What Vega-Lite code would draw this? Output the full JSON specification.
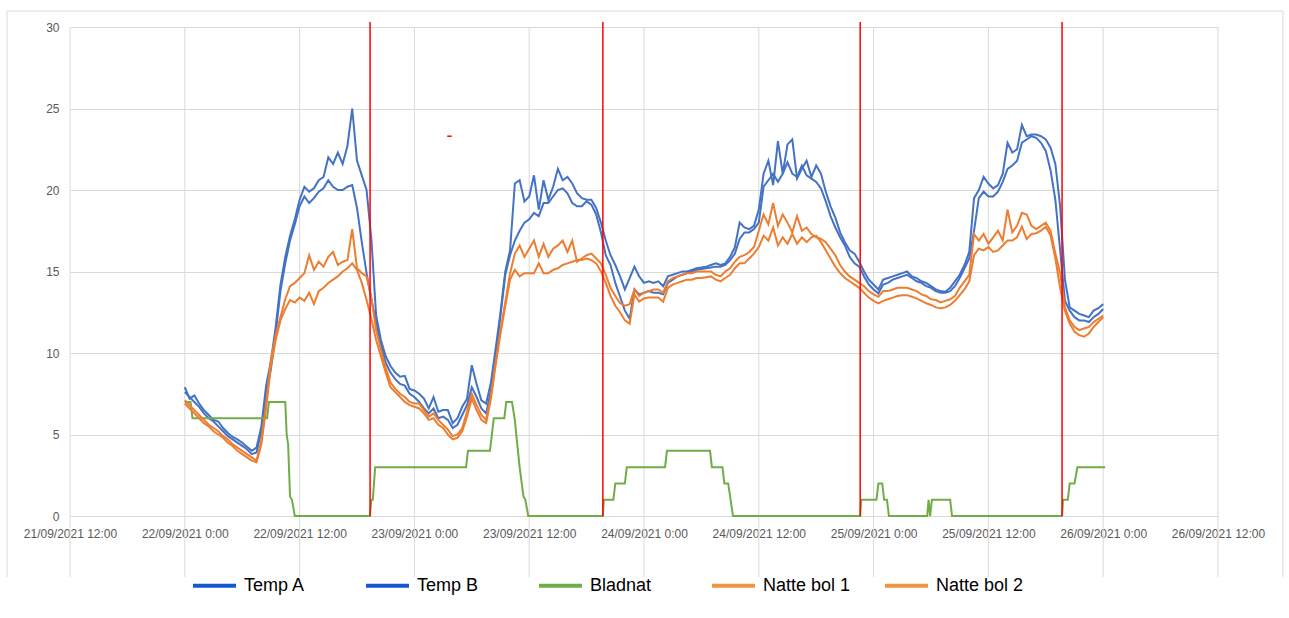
{
  "$schema": "https://vega.github.io/schema/vega-lite/v6.json",
  "width": 1148,
  "height": 550,
  "autosize": {"type": "none"},
  "padding": {"left": 70, "top": 27, "right": 71, "bottom": 41},
  "background": "#ffffff",
  "config": {"view": {"stroke": null}},
  "datasets": {
    "rules": [
      {"x1": "2021-09-21T12:00", "x2": "2021-09-21T12:00", "y1": 30, "y2": -3.74},
      {"x1": "2021-09-22T00:00", "x2": "2021-09-22T00:00", "y1": 30, "y2": -3.74},
      {"x1": "2021-09-22T12:00", "x2": "2021-09-22T12:00", "y1": 30, "y2": -3.74},
      {"x1": "2021-09-23T00:00", "x2": "2021-09-23T00:00", "y1": 30, "y2": -3.74},
      {"x1": "2021-09-23T12:00", "x2": "2021-09-23T12:00", "y1": 30, "y2": -3.74},
      {"x1": "2021-09-24T00:00", "x2": "2021-09-24T00:00", "y1": 30, "y2": -3.74},
      {"x1": "2021-09-24T12:00", "x2": "2021-09-24T12:00", "y1": 30, "y2": -3.74},
      {"x1": "2021-09-25T00:00", "x2": "2021-09-25T00:00", "y1": 30, "y2": -3.74},
      {"x1": "2021-09-25T12:00", "x2": "2021-09-25T12:00", "y1": 30, "y2": -3.74},
      {"x1": "2021-09-26T00:00", "x2": "2021-09-26T00:00", "y1": 30, "y2": -3.74},
      {"x1": "2021-09-26T12:00", "x2": "2021-09-26T12:00", "y1": 30, "y2": -3.74},
      {"x1": "2021-09-21T05:25", "x2": "2021-09-21T05:25", "y1": 30.98, "y2": -3.74},
      {"x1": "2021-09-26T18:47", "x2": "2021-09-26T18:47", "y1": 30.98, "y2": -3.74},
      {"x1": "2021-09-21T05:25", "x2": "2021-09-26T18:47", "y1": 30.98, "y2": 30.98}
    ],
    "temps": [
      {"t":"2021-09-22T00:00","a":7.9,"b":7.6,"c":7.1,"d":6.9},
      {"t":"2021-09-22T00:30","a":7.2,"b":7.3,"c":6.8,"d":6.6},
      {"t":"2021-09-22T01:00","a":7.4,"b":7.0,"c":6.5,"d":6.3},
      {"t":"2021-09-22T01:30","a":6.9,"b":6.7,"c":6.2,"d":6.0},
      {"t":"2021-09-22T02:00","a":6.5,"b":6.3,"c":5.9,"d":5.7},
      {"t":"2021-09-22T02:30","a":6.2,"b":6.0,"c":5.6,"d":5.5},
      {"t":"2021-09-22T03:00","a":5.9,"b":5.8,"c":5.4,"d":5.2},
      {"t":"2021-09-22T03:30","a":5.8,"b":5.5,"c":5.2,"d":5.0},
      {"t":"2021-09-22T04:00","a":5.4,"b":5.2,"c":4.9,"d":4.8},
      {"t":"2021-09-22T04:30","a":5.1,"b":4.9,"c":4.7,"d":4.5},
      {"t":"2021-09-22T05:00","a":4.85,"b":4.7,"c":4.4,"d":4.3},
      {"t":"2021-09-22T05:30","a":4.7,"b":4.5,"c":4.2,"d":4.0},
      {"t":"2021-09-22T06:00","a":4.5,"b":4.3,"c":4.0,"d":3.8},
      {"t":"2021-09-22T06:30","a":4.25,"b":4.1,"c":3.8,"d":3.6},
      {"t":"2021-09-22T07:00","a":4.0,"b":3.8,"c":3.6,"d":3.4},
      {"t":"2021-09-22T07:30","a":4.2,"b":3.9,"c":3.4,"d":3.3},
      {"t":"2021-09-22T08:00","a":5.5,"b":5.2,"c":4.6,"d":4.4},
      {"t":"2021-09-22T08:30","a":8.0,"b":7.5,"c":6.9,"d":6.6},
      {"t":"2021-09-22T09:00","a":9.5,"b":9.0,"c":9.6,"d":9.2},
      {"t":"2021-09-22T09:30","a":11.6,"b":11.2,"c":11.1,"d":10.8},
      {"t":"2021-09-22T10:00","a":14.2,"b":13.8,"c":12.2,"d":12.0},
      {"t":"2021-09-22T10:30","a":15.9,"b":15.5,"c":13.3,"d":12.7},
      {"t":"2021-09-22T11:00","a":17.2,"b":16.9,"c":14.1,"d":13.25},
      {"t":"2021-09-22T11:30","a":18.2,"b":17.9,"c":14.3,"d":13.1},
      {"t":"2021-09-22T12:00","a":19.4,"b":19.0,"c":14.6,"d":13.4},
      {"t":"2021-09-22T12:30","a":20.2,"b":19.6,"c":14.9,"d":13.2},
      {"t":"2021-09-22T13:00","a":19.9,"b":19.2,"c":16.0,"d":13.7},
      {"t":"2021-09-22T13:30","a":20.1,"b":19.5,"c":15.1,"d":13.0},
      {"t":"2021-09-22T14:00","a":20.6,"b":19.9,"c":15.6,"d":13.8},
      {"t":"2021-09-22T14:30","a":20.8,"b":20.1,"c":15.3,"d":14.0},
      {"t":"2021-09-22T15:00","a":22.0,"b":20.6,"c":15.9,"d":14.3},
      {"t":"2021-09-22T15:30","a":21.6,"b":20.2,"c":16.2,"d":14.5},
      {"t":"2021-09-22T16:00","a":22.3,"b":20.0,"c":15.4,"d":14.7},
      {"t":"2021-09-22T16:30","a":21.6,"b":20.0,"c":15.6,"d":15.0},
      {"t":"2021-09-22T17:00","a":22.7,"b":20.2,"c":15.7,"d":15.2},
      {"t":"2021-09-22T17:30","a":25.0,"b":20.3,"c":17.6,"d":15.5},
      {"t":"2021-09-22T18:00","a":21.8,"b":18.9,"c":15.2,"d":15.1},
      {"t":"2021-09-22T18:30","a":20.9,"b":16.8,"c":14.9,"d":14.3},
      {"t":"2021-09-22T19:00","a":20.0,"b":14.9,"c":14.7,"d":13.25},
      {"t":"2021-09-22T19:30","a":17.0,"b":13.3,"c":13.4,"d":12.1},
      {"t":"2021-09-22T20:00","a":12.3,"b":11.9,"c":11.4,"d":10.8},
      {"t":"2021-09-22T20:30","a":10.8,"b":10.5,"c":10.2,"d":9.8},
      {"t":"2021-09-22T21:00","a":9.8,"b":9.4,"c":9.1,"d":8.8},
      {"t":"2021-09-22T21:30","a":9.2,"b":8.8,"c":8.2,"d":7.9},
      {"t":"2021-09-22T22:00","a":8.8,"b":8.4,"c":7.8,"d":7.6},
      {"t":"2021-09-22T22:30","a":8.55,"b":8.1,"c":7.5,"d":7.3},
      {"t":"2021-09-22T23:00","a":8.6,"b":8.0,"c":7.3,"d":7.0},
      {"t":"2021-09-22T23:30","a":7.8,"b":7.5,"c":7.0,"d":6.8},
      {"t":"2021-09-23T00:00","a":7.7,"b":7.3,"c":6.9,"d":6.7},
      {"t":"2021-09-23T00:30","a":7.5,"b":7.0,"c":6.9,"d":6.6},
      {"t":"2021-09-23T01:00","a":7.2,"b":6.6,"c":6.5,"d":6.3},
      {"t":"2021-09-23T01:30","a":6.6,"b":6.3,"c":6.1,"d":5.9},
      {"t":"2021-09-23T02:00","a":7.3,"b":6.6,"c":6.3,"d":6.0},
      {"t":"2021-09-23T02:30","a":6.4,"b":6.0,"c":5.9,"d":5.6},
      {"t":"2021-09-23T03:00","a":6.5,"b":6.1,"c":5.6,"d":5.4},
      {"t":"2021-09-23T03:30","a":6.5,"b":5.9,"c":5.3,"d":5.0},
      {"t":"2021-09-23T04:00","a":5.7,"b":5.4,"c":4.9,"d":4.7},
      {"t":"2021-09-23T04:30","a":6.0,"b":5.6,"c":5.0,"d":4.8},
      {"t":"2021-09-23T05:00","a":6.7,"b":6.2,"c":5.4,"d":5.2},
      {"t":"2021-09-23T05:30","a":7.2,"b":6.8,"c":6.4,"d":6.1},
      {"t":"2021-09-23T06:00","a":9.25,"b":7.9,"c":7.5,"d":7.2},
      {"t":"2021-09-23T06:30","a":8.1,"b":7.3,"c":6.8,"d":6.5},
      {"t":"2021-09-23T07:00","a":7.1,"b":6.6,"c":6.2,"d":5.9},
      {"t":"2021-09-23T07:30","a":6.9,"b":6.3,"c":5.9,"d":5.7},
      {"t":"2021-09-23T08:00","a":8.2,"b":7.7,"c":7.4,"d":7.2},
      {"t":"2021-09-23T08:30","a":10.3,"b":10.0,"c":9.5,"d":9.3},
      {"t":"2021-09-23T09:00","a":12.5,"b":12.3,"c":11.4,"d":11.2},
      {"t":"2021-09-23T09:30","a":15.0,"b":14.8,"c":13.1,"d":12.9},
      {"t":"2021-09-23T10:00","a":16.3,"b":16.0,"c":14.9,"d":14.5},
      {"t":"2021-09-23T10:30","a":20.4,"b":16.9,"c":16.1,"d":15.1},
      {"t":"2021-09-23T11:00","a":20.6,"b":17.5,"c":16.6,"d":14.7},
      {"t":"2021-09-23T11:30","a":19.3,"b":18.0,"c":15.9,"d":14.9},
      {"t":"2021-09-23T12:00","a":19.6,"b":18.2,"c":16.4,"d":14.9},
      {"t":"2021-09-23T12:30","a":20.9,"b":18.6,"c":16.9,"d":14.9},
      {"t":"2021-09-23T13:00","a":18.8,"b":18.4,"c":15.9,"d":15.5},
      {"t":"2021-09-23T13:30","a":20.6,"b":19.2,"c":16.7,"d":14.9},
      {"t":"2021-09-23T14:00","a":19.4,"b":19.2,"c":15.9,"d":14.9},
      {"t":"2021-09-23T14:30","a":20.2,"b":19.6,"c":16.4,"d":15.1},
      {"t":"2021-09-23T15:00","a":21.3,"b":20.0,"c":16.6,"d":15.2},
      {"t":"2021-09-23T15:30","a":20.6,"b":20.1,"c":16.9,"d":15.4},
      {"t":"2021-09-23T16:00","a":20.8,"b":19.8,"c":16.2,"d":15.5},
      {"t":"2021-09-23T16:30","a":20.4,"b":19.2,"c":16.9,"d":15.6},
      {"t":"2021-09-23T17:00","a":19.8,"b":19.0,"c":15.6,"d":15.7},
      {"t":"2021-09-23T17:30","a":19.5,"b":19.0,"c":15.8,"d":15.7},
      {"t":"2021-09-23T18:00","a":19.4,"b":19.3,"c":16.0,"d":15.8},
      {"t":"2021-09-23T18:30","a":19.4,"b":19.1,"c":16.1,"d":15.7},
      {"t":"2021-09-23T19:00","a":18.9,"b":18.5,"c":15.8,"d":15.5},
      {"t":"2021-09-23T19:30","a":18.0,"b":17.4,"c":15.5,"d":15.0},
      {"t":"2021-09-23T20:00","a":16.9,"b":16.0,"c":14.8,"d":14.3},
      {"t":"2021-09-23T20:30","a":16.0,"b":15.4,"c":14.0,"d":13.5},
      {"t":"2021-09-23T21:00","a":15.4,"b":14.3,"c":13.5,"d":12.9},
      {"t":"2021-09-23T21:30","a":14.7,"b":13.45,"c":13.05,"d":12.5},
      {"t":"2021-09-23T22:00","a":13.9,"b":12.6,"c":12.9,"d":12.0},
      {"t":"2021-09-23T22:30","a":14.6,"b":12.1,"c":13.0,"d":11.8},
      {"t":"2021-09-23T23:00","a":15.3,"b":13.9,"c":13.9,"d":13.6},
      {"t":"2021-09-23T23:30","a":14.7,"b":13.6,"c":13.5,"d":13.15},
      {"t":"2021-09-24T00:00","a":14.3,"b":13.7,"c":13.7,"d":13.35},
      {"t":"2021-09-24T00:30","a":14.4,"b":13.8,"c":13.8,"d":13.4},
      {"t":"2021-09-24T01:00","a":14.3,"b":13.7,"c":13.9,"d":13.4},
      {"t":"2021-09-24T01:30","a":14.4,"b":13.7,"c":13.9,"d":13.4},
      {"t":"2021-09-24T02:00","a":14.1,"b":13.6,"c":13.7,"d":13.15},
      {"t":"2021-09-24T02:30","a":14.7,"b":14.3,"c":14.4,"d":14.0},
      {"t":"2021-09-24T03:00","a":14.8,"b":14.5,"c":14.6,"d":14.2},
      {"t":"2021-09-24T03:30","a":14.9,"b":14.7,"c":14.7,"d":14.3},
      {"t":"2021-09-24T04:00","a":15.0,"b":14.8,"c":14.8,"d":14.4},
      {"t":"2021-09-24T04:30","a":15.0,"b":14.9,"c":14.9,"d":14.5},
      {"t":"2021-09-24T05:00","a":15.1,"b":15.0,"c":14.9,"d":14.5},
      {"t":"2021-09-24T05:30","a":15.2,"b":15.1,"c":15.0,"d":14.6},
      {"t":"2021-09-24T06:00","a":15.25,"b":15.15,"c":15.0,"d":14.6},
      {"t":"2021-09-24T06:30","a":15.3,"b":15.2,"c":15.0,"d":14.65},
      {"t":"2021-09-24T07:00","a":15.4,"b":15.25,"c":15.0,"d":14.7},
      {"t":"2021-09-24T07:30","a":15.5,"b":15.3,"c":14.8,"d":14.5},
      {"t":"2021-09-24T08:00","a":15.4,"b":15.3,"c":14.7,"d":14.4},
      {"t":"2021-09-24T08:30","a":15.5,"b":15.4,"c":15.0,"d":14.6},
      {"t":"2021-09-24T09:00","a":15.9,"b":15.7,"c":15.2,"d":14.8},
      {"t":"2021-09-24T09:30","a":16.5,"b":16.1,"c":15.6,"d":15.2},
      {"t":"2021-09-24T10:00","a":18.0,"b":17.0,"c":15.9,"d":15.5},
      {"t":"2021-09-24T10:30","a":17.7,"b":17.4,"c":16.0,"d":15.5},
      {"t":"2021-09-24T11:00","a":17.6,"b":17.4,"c":16.2,"d":15.8},
      {"t":"2021-09-24T11:30","a":17.8,"b":17.6,"c":16.5,"d":16.1},
      {"t":"2021-09-24T12:00","a":18.8,"b":18.0,"c":17.5,"d":16.5},
      {"t":"2021-09-24T12:30","a":21.0,"b":20.2,"c":18.5,"d":17.2},
      {"t":"2021-09-24T13:00","a":21.8,"b":20.6,"c":17.9,"d":16.9},
      {"t":"2021-09-24T13:30","a":20.3,"b":21.0,"c":19.2,"d":17.7},
      {"t":"2021-09-24T14:00","a":23.0,"b":20.5,"c":17.8,"d":16.6},
      {"t":"2021-09-24T14:30","a":21.0,"b":21.0,"c":18.5,"d":17.1},
      {"t":"2021-09-24T15:00","a":22.8,"b":21.7,"c":18.0,"d":16.7},
      {"t":"2021-09-24T15:30","a":23.1,"b":21.0,"c":17.4,"d":17.3},
      {"t":"2021-09-24T16:00","a":20.7,"b":20.8,"c":18.4,"d":16.7},
      {"t":"2021-09-24T16:30","a":21.3,"b":21.5,"c":17.5,"d":17.1},
      {"t":"2021-09-24T17:00","a":21.8,"b":20.9,"c":17.7,"d":16.8},
      {"t":"2021-09-24T17:30","a":20.8,"b":20.7,"c":17.3,"d":17.1},
      {"t":"2021-09-24T18:00","a":21.5,"b":20.5,"c":17.1,"d":17.2},
      {"t":"2021-09-24T18:30","a":21.0,"b":20.1,"c":17.0,"d":16.8},
      {"t":"2021-09-24T19:00","a":19.9,"b":19.3,"c":16.8,"d":16.3},
      {"t":"2021-09-24T19:30","a":19.0,"b":18.4,"c":16.4,"d":15.8},
      {"t":"2021-09-24T20:00","a":18.3,"b":17.7,"c":16.0,"d":15.3},
      {"t":"2021-09-24T20:30","a":17.4,"b":17.1,"c":15.4,"d":14.9},
      {"t":"2021-09-24T21:00","a":16.8,"b":16.6,"c":15.0,"d":14.6},
      {"t":"2021-09-24T21:30","a":16.3,"b":15.9,"c":14.7,"d":14.4},
      {"t":"2021-09-24T22:00","a":16.1,"b":15.5,"c":14.5,"d":14.2},
      {"t":"2021-09-24T22:30","a":15.6,"b":15.3,"c":14.3,"d":14.0},
      {"t":"2021-09-24T23:00","a":15.0,"b":14.7,"c":14.1,"d":13.7},
      {"t":"2021-09-24T23:30","a":14.5,"b":14.2,"c":13.8,"d":13.4},
      {"t":"2021-09-25T00:00","a":14.2,"b":13.9,"c":13.6,"d":13.2},
      {"t":"2021-09-25T00:30","a":13.9,"b":13.65,"c":13.45,"d":13.05},
      {"t":"2021-09-25T01:00","a":14.5,"b":14.2,"c":13.8,"d":13.2},
      {"t":"2021-09-25T01:30","a":14.6,"b":14.3,"c":13.8,"d":13.3},
      {"t":"2021-09-25T02:00","a":14.7,"b":14.5,"c":13.9,"d":13.4},
      {"t":"2021-09-25T02:30","a":14.8,"b":14.6,"c":14.0,"d":13.5},
      {"t":"2021-09-25T03:00","a":14.9,"b":14.7,"c":14.0,"d":13.55},
      {"t":"2021-09-25T03:30","a":15.0,"b":14.8,"c":14.0,"d":13.55},
      {"t":"2021-09-25T04:00","a":14.7,"b":14.6,"c":13.9,"d":13.45},
      {"t":"2021-09-25T04:30","a":14.6,"b":14.4,"c":13.8,"d":13.35},
      {"t":"2021-09-25T05:00","a":14.4,"b":14.3,"c":13.6,"d":13.2},
      {"t":"2021-09-25T05:30","a":14.3,"b":14.1,"c":13.5,"d":13.05},
      {"t":"2021-09-25T06:00","a":14.1,"b":14.0,"c":13.3,"d":12.95},
      {"t":"2021-09-25T06:30","a":13.9,"b":13.8,"c":13.25,"d":12.8},
      {"t":"2021-09-25T07:00","a":13.8,"b":13.7,"c":13.1,"d":12.75},
      {"t":"2021-09-25T07:30","a":13.76,"b":13.7,"c":13.2,"d":12.8},
      {"t":"2021-09-25T08:00","a":14.0,"b":13.8,"c":13.3,"d":12.95},
      {"t":"2021-09-25T08:30","a":14.4,"b":14.1,"c":13.5,"d":13.2},
      {"t":"2021-09-25T09:00","a":14.8,"b":14.6,"c":14.0,"d":13.55},
      {"t":"2021-09-25T09:30","a":15.4,"b":15.2,"c":14.4,"d":13.9},
      {"t":"2021-09-25T10:00","a":16.2,"b":15.8,"c":14.8,"d":14.4},
      {"t":"2021-09-25T10:30","a":19.5,"b":17.5,"c":17.3,"d":16.0},
      {"t":"2021-09-25T11:00","a":20.0,"b":19.5,"c":16.9,"d":16.4},
      {"t":"2021-09-25T11:30","a":20.8,"b":19.9,"c":17.3,"d":16.3},
      {"t":"2021-09-25T12:00","a":20.4,"b":19.6,"c":16.7,"d":16.5},
      {"t":"2021-09-25T12:30","a":20.1,"b":19.6,"c":17.1,"d":16.2},
      {"t":"2021-09-25T13:00","a":20.3,"b":19.9,"c":17.5,"d":16.3},
      {"t":"2021-09-25T13:30","a":21.0,"b":20.5,"c":16.9,"d":16.6},
      {"t":"2021-09-25T14:00","a":22.9,"b":21.3,"c":18.8,"d":16.9},
      {"t":"2021-09-25T14:30","a":22.3,"b":21.5,"c":17.4,"d":16.9},
      {"t":"2021-09-25T15:00","a":22.5,"b":21.8,"c":17.8,"d":17.1},
      {"t":"2021-09-25T15:30","a":24.0,"b":22.9,"c":18.6,"d":17.75},
      {"t":"2021-09-25T16:00","a":23.3,"b":23.1,"c":18.5,"d":17.0},
      {"t":"2021-09-25T16:30","a":23.4,"b":23.3,"c":17.8,"d":17.3},
      {"t":"2021-09-25T17:00","a":23.4,"b":23.2,"c":17.6,"d":17.35},
      {"t":"2021-09-25T17:30","a":23.3,"b":22.9,"c":17.8,"d":17.5},
      {"t":"2021-09-25T18:00","a":23.1,"b":22.4,"c":18.0,"d":17.75},
      {"t":"2021-09-25T18:30","a":22.6,"b":21.2,"c":17.5,"d":17.2},
      {"t":"2021-09-25T19:00","a":21.6,"b":19.4,"c":16.1,"d":15.8},
      {"t":"2021-09-25T19:30","a":19.0,"b":16.3,"c":14.9,"d":14.0},
      {"t":"2021-09-25T20:00","a":14.5,"b":13.2,"c":12.8,"d":12.6},
      {"t":"2021-09-25T20:30","a":12.8,"b":12.6,"c":12.0,"d":11.8},
      {"t":"2021-09-25T21:00","a":12.6,"b":12.2,"c":11.6,"d":11.3},
      {"t":"2021-09-25T21:30","a":12.4,"b":12.0,"c":11.4,"d":11.1},
      {"t":"2021-09-25T22:00","a":12.3,"b":12.0,"c":11.5,"d":11.0},
      {"t":"2021-09-25T22:30","a":12.2,"b":11.9,"c":11.6,"d":11.2},
      {"t":"2021-09-25T23:00","a":12.6,"b":12.2,"c":11.9,"d":11.6},
      {"t":"2021-09-25T23:30","a":12.75,"b":12.4,"c":12.1,"d":11.9},
      {"t":"2021-09-26T00:00","a":13.0,"b":12.7,"c":12.3,"d":12.2}
    ],
    "bladnat": [
      {"t":"2021-09-22T00:00","v":7},{"t":"2021-09-22T00:36","v":7},{"t":"2021-09-22T00:48","v":6},
      {"t":"2021-09-22T08:36","v":6},{"t":"2021-09-22T08:48","v":7},{"t":"2021-09-22T10:30","v":7},
      {"t":"2021-09-22T10:39","v":5},{"t":"2021-09-22T10:48","v":4.4},{"t":"2021-09-22T11:00","v":1.2},
      {"t":"2021-09-22T11:12","v":1},{"t":"2021-09-22T11:30","v":0},{"t":"2021-09-22T19:21","v":0},
      {"t":"2021-09-22T19:30","v":1},{"t":"2021-09-22T19:39","v":1},{"t":"2021-09-22T19:54","v":3},
      {"t":"2021-09-23T05:24","v":3},{"t":"2021-09-23T05:36","v":4},{"t":"2021-09-23T07:54","v":4},
      {"t":"2021-09-23T08:06","v":5},{"t":"2021-09-23T08:18","v":6},{"t":"2021-09-23T09:24","v":6},
      {"t":"2021-09-23T09:36","v":7},{"t":"2021-09-23T10:12","v":7},{"t":"2021-09-23T10:30","v":5.9},
      {"t":"2021-09-23T10:42","v":4.7},{"t":"2021-09-23T11:00","v":3},{"t":"2021-09-23T11:24","v":1.2},
      {"t":"2021-09-23T11:36","v":1},{"t":"2021-09-23T11:54","v":0},{"t":"2021-09-23T19:42","v":0},
      {"t":"2021-09-23T19:48","v":1},{"t":"2021-09-23T20:48","v":1},{"t":"2021-09-23T21:00","v":2},
      {"t":"2021-09-23T22:00","v":2},{"t":"2021-09-23T22:12","v":3},{"t":"2021-09-24T02:12","v":3},
      {"t":"2021-09-24T02:24","v":4},{"t":"2021-09-24T06:54","v":4},{"t":"2021-09-24T07:06","v":3},
      {"t":"2021-09-24T08:12","v":3},{"t":"2021-09-24T08:24","v":2},{"t":"2021-09-24T08:48","v":2},
      {"t":"2021-09-24T09:18","v":0},{"t":"2021-09-24T22:36","v":0},{"t":"2021-09-24T22:42","v":1},
      {"t":"2021-09-25T00:18","v":1},{"t":"2021-09-25T00:30","v":2},{"t":"2021-09-25T00:54","v":2},
      {"t":"2021-09-25T01:06","v":1},{"t":"2021-09-25T01:24","v":1},{"t":"2021-09-25T01:36","v":0},
      {"t":"2021-09-25T05:36","v":0},{"t":"2021-09-25T05:45","v":1},{"t":"2021-09-25T05:54","v":0},
      {"t":"2021-09-25T06:06","v":1},{"t":"2021-09-25T08:00","v":1},{"t":"2021-09-25T08:12","v":0},
      {"t":"2021-09-25T19:42","v":0},{"t":"2021-09-25T19:48","v":1},{"t":"2021-09-25T20:18","v":1},
      {"t":"2021-09-25T20:30","v":2},{"t":"2021-09-25T21:00","v":2},{"t":"2021-09-25T21:18","v":3},
      {"t":"2021-09-26T00:12","v":3}
    ],
    "markers": [
      {"t":"2021-09-22T19:22"},{"t":"2021-09-23T19:42"},{"t":"2021-09-24T22:36"},{"t":"2021-09-25T19:42"}
    ],
    "dash": [
      {"t":"2021-09-23T03:26","v":23.3},{"t":"2021-09-23T03:54","v":23.3}
    ]
  },
  "layer": [
    {
      "data": {"name": "rules"},
      "mark": {"type": "rule", "color": "#d9d9d9", "strokeWidth": 1},
      "encoding": {
        "x": {"field": "x1", "type": "temporal", "title": null,
          "scale": {"domain": [{"year":2021,"month":9,"date":21,"hours":12},{"year":2021,"month":9,"date":26,"hours":12}], "nice": false},
          "axis": {"orient": "bottom", "offset": -61, "grid": false, "domain": false, "ticks": false,
            "values": [
              {"year":2021,"month":9,"date":21,"hours":12},{"year":2021,"month":9,"date":22,"hours":0},
              {"year":2021,"month":9,"date":22,"hours":12},{"year":2021,"month":9,"date":23,"hours":0},
              {"year":2021,"month":9,"date":23,"hours":12},{"year":2021,"month":9,"date":24,"hours":0},
              {"year":2021,"month":9,"date":24,"hours":12},{"year":2021,"month":9,"date":25,"hours":0},
              {"year":2021,"month":9,"date":25,"hours":12},{"year":2021,"month":9,"date":26,"hours":0},
              {"year":2021,"month":9,"date":26,"hours":12}],
            "format": "%d/%m/%Y %-H:%M", "labelAngle": 0, "labelOverlap": false, "labelFlush": false,
            "labelPadding": 12, "labelFont": "Liberation Sans", "labelFontSize": 12, "labelColor": "#595959", "title": null}},
        "x2": {"field": "x2"},
        "y": {"field": "y1", "type": "quantitative", "title": null,
          "scale": {"domain": [-3.74, 30], "nice": false, "zero": false},
          "axis": {"values": [0,5,10,15,20,25,30], "grid": true, "gridColor": "#d9d9d9", "gridWidth": 1,
            "domain": false, "ticks": false, "labelPadding": 11, "labelFont": "Liberation Sans",
            "labelFontSize": 12, "labelColor": "#595959", "title": null}},
        "y2": {"field": "y2"}
      }
    },
    {
      "data": {"name": "temps"},
      "mark": {"type": "line", "color": "#4472C4", "strokeWidth": 2},
      "encoding": {
        "x": {"field": "t", "type": "temporal", "title": null},
        "y": {"field": "a", "type": "quantitative", "title": null}
      }
    },
    {
      "data": {"name": "temps"},
      "mark": {"type": "line", "color": "#4472C4", "strokeWidth": 2},
      "encoding": {
        "x": {"field": "t", "type": "temporal", "title": null},
        "y": {"field": "b", "type": "quantitative", "title": null}
      }
    },
    {
      "data": {"name": "bladnat"},
      "mark": {"type": "line", "color": "#70AD47", "strokeWidth": 2},
      "encoding": {
        "x": {"field": "t", "type": "temporal", "title": null},
        "y": {"field": "v", "type": "quantitative", "title": null}
      }
    },
    {
      "data": {"name": "temps"},
      "mark": {"type": "line", "color": "#ED7D31", "strokeWidth": 2},
      "encoding": {
        "x": {"field": "t", "type": "temporal", "title": null},
        "y": {"field": "c", "type": "quantitative", "title": null}
      }
    },
    {
      "data": {"name": "temps"},
      "mark": {"type": "line", "color": "#ED7D31", "strokeWidth": 2},
      "encoding": {
        "x": {"field": "t", "type": "temporal", "title": null},
        "y": {"field": "d", "type": "quantitative", "title": null}
      }
    },
    {
      "data": {"name": "markers"},
      "mark": {"type": "rule", "color": "#FF0000", "strokeWidth": 1.5},
      "encoding": {
        "x": {"field": "t", "type": "temporal", "title": null},
        "y": {"datum": 0},
        "y2": {"datum": 30.3}
      }
    },
    {
      "data": {"name": "dash"},
      "mark": {"type": "line", "color": "#FF0000", "strokeWidth": 1.5},
      "encoding": {
        "x": {"field": "t", "type": "temporal", "title": null},
        "y": {"field": "v", "type": "quantitative", "title": null}
      }
    },
    {
      "data": {"values": []},
      "mark": {"type": "line"},
      "encoding": {
        "x": {"field": "t", "type": "temporal", "title": null},
        "y": {"field": "v", "type": "quantitative", "title": null},
        "color": {"field": "s", "type": "nominal",
          "scale": {"domain": ["Temp A", "Temp B", "Bladnat", "Natte bol 1", "Natte bol 2"],
                    "range": ["#1558D6", "#1558D6", "#70AD47", "#EE9640", "#EE9640"]},
          "legend": {"orient": "none", "legendX": 121, "legendY": 535, "direction": "horizontal",
            "columns": 5, "gridAlign": "all", "columnPadding": 26, "padding": 0,
            "symbolType": "stroke", "symbolSize": 1849, "symbolStrokeWidth": 4,
            "labelFont": "Liberation Sans", "labelFontSize": 18, "labelColor": "#000000",
            "labelOffset": 6, "title": null}}
      }
    }
  ]
}
